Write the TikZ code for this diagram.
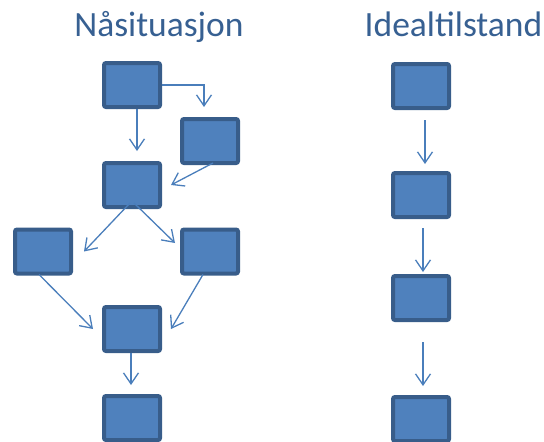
\documentclass[tikz,border=0pt]{standalone}
\usepackage{fontspec}
\setmainfont{Carlito}
\usetikzlibrary{arrows.meta}
\definecolor{boxfill}{HTML}{4F81BD}
\definecolor{boxline}{HTML}{385D8A}
\definecolor{linkcol}{HTML}{4A7EBB}
\definecolor{titlecol}{HTML}{376092}
\begin{document}
\begin{tikzpicture}[x=1pt,y=-1pt,
  stepbox/.style={draw=boxline,fill=boxfill,line width=4pt,rounded corners=2pt,
    minimum width=56pt,minimum height=44pt,inner sep=0pt},
  link/.style={draw=linkcol,line width=1.3pt,
    -{Straight Barb[length=11pt,width=15pt,line width=1.3pt]}},
  heading/.style={text=titlecol,font=\fontsize{35.5}{42}\selectfont,anchor=base,inner sep=0pt}]
\useasboundingbox (0,0) rectangle (544,442);
% titles
\node[heading] (t1) at (159,36) {Nåsituasjon};
\node[heading] (t2) at (453.5,36) {Idealtilstand};
% current process
\node[stepbox] (a) at (132,85) {};
\node[stepbox] (b) at (210,141) {};
\node[stepbox] (c) at (132,185) {};
\node[stepbox] (d) at (43,251.5) {};
\node[stepbox] (e) at (210,251.5) {};
\node[stepbox] (f) at (132,329) {};
\node[stepbox] (g) at (132,418) {};
% ideal process
\node[stepbox] (r1) at (421,86) {};
\node[stepbox] (r2) at (421,195) {};
\node[stepbox] (r3) at (421,298) {};
\node[stepbox] (r4) at (421,419) {};
% connectors, current process (canvas shifts: positive yshift is upward)
\draw[link,shorten >=10pt] ([xshift=5pt]a.south) -- ([xshift=5pt]c.north);
\draw[link,shorten >=10pt] (a.east) -| ([xshift=-6pt]b.north);
\draw[link] ([xshift=3pt,yshift=2pt]b.south) -- ([xshift=9pt]c.east);
\draw[link] ([xshift=-2pt,yshift=6pt]c.south) -- ([xshift=11pt]d.east);
\draw[link] ([xshift=2pt,yshift=6pt]c.south) -- ([xshift=-5pt,yshift=8.5pt]e.west);
\draw[link] ([xshift=-4pt,yshift=1pt]d.south) -- ([xshift=-9pt]f.west);
\draw[link] ([xshift=-7pt,yshift=1pt]e.south) -- ([xshift=9pt]f.east);
\draw[link,shorten >=9pt] ([xshift=-1pt]f.south) -- ([xshift=-1pt]g.north);
% connectors, ideal process
\draw[link,shorten <=10pt,shorten >=7pt] ([xshift=4pt]r1.south) -- ([xshift=4pt]r2.north);
\draw[link,shorten <=9pt,shorten >=2pt] ([xshift=2pt]r2.south) -- ([xshift=2pt]r3.north);
\draw[link,shorten <=20pt,shorten >=9pt] ([xshift=2pt]r3.south) -- ([xshift=2pt]r4.north);
\end{tikzpicture}
\end{document}
